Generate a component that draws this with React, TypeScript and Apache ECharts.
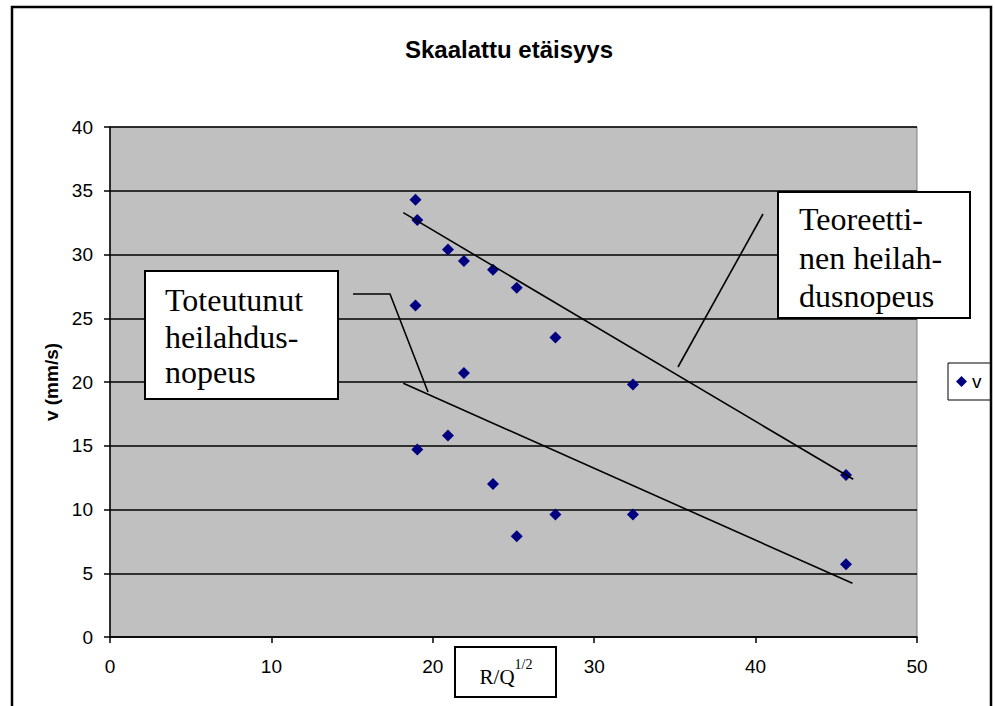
import React, { useEffect, useRef } from "react";
import * as echarts from "echarts";

// ---- Data ----
const titleText = "Skaalattu etäisyys";
const seriesName = "v";
const yAxisName = "v (mm/s)";
const xAxisMain = "R/Q";
const xAxisSup = "1/2";

const xMin = 0;
const xMax = 50;
const xInterval = 10;
const yMin = 0;
const yMax = 40;
const yInterval = 5;

// scatter points: R/Q^(1/2) and v (mm/s)
const xValues = [18.93, 19.04, 20.94, 21.93, 23.73, 25.2, 27.6, 32.4, 45.6, 18.93, 21.93, 19.04, 20.94, 23.73, 25.2, 27.6, 32.4, 45.6];
const vValues = [34.3, 32.7, 30.4, 29.5, 28.8, 27.4, 23.5, 19.8, 12.7, 26.0, 20.7, 14.7, 15.8, 12.0, 7.9, 9.6, 9.6, 5.7];

// hand-drawn trend lines (endpoints in data units)
const theoryLineX = [18.17, 46.05];
const theoryLineY = [33.28, 12.37];
const actualLineX = [18.17, 46.0];
const actualLineY = [19.9, 4.21];

// callout texts
const actualLabel = ["Toteutunut", "heilahdus-", "nopeus"];
const theoryLabel = ["Teoreetti-", "nen heilah-", "dusnopeus"];

const SANS = "'Liberation Sans', Arial, sans-serif";
const SERIF = "'Liberation Serif', 'Times New Roman', serif";

export default function App() {
  const ref = useRef<HTMLDivElement | null>(null);

  useEffect(() => {
    document.body.style.margin = "0";
    if (!ref.current) return;
    const chart = echarts.init(ref.current, undefined, { renderer: "svg" });

    const points = xValues.map((x, i) => [x, vValues[i]]);
    const theory = theoryLineX.map((x, i) => [x, theoryLineY[i]]);
    const actual = actualLineX.map((x, i) => [x, actualLineY[i]]);

    const lineTexts = (lines: string[], x: number, ys: number[]) =>
      lines.map((t, i) => ({
        type: "text",
        z: 101,
        x,
        y: ys[i],
        style: {
          text: t,
          fontFamily: SERIF,
          fontSize: 32,
          fill: "#000",
          align: "left",
          verticalAlign: "middle",
        },
      }));

    chart.setOption({
      animation: false,
      backgroundColor: "#ffffff",
      title: {
        text: titleText,
        left: 504,
        top: 32,
        textAlign: "center",
        textStyle: { fontFamily: SANS, fontWeight: "bold", fontSize: 24, color: "#000" },
      },
      legend: {
        data: [seriesName],
        left: 948,
        top: 363,
        orient: "vertical",
        backgroundColor: "#fff",
        borderColor: "#000",
        borderWidth: 1,
        padding: [9, 9, 9, 8],
        itemWidth: 11,
        itemHeight: 11,
        icon: "diamond",
        itemStyle: { color: "#000080", opacity: 1 },
        textStyle: { fontFamily: SANS, fontSize: 19, color: "#000" },
      },
      grid: {
        left: 110,
        top: 127,
        right: 78,
        bottom: 69,
        show: true,
        backgroundColor: "#C0C0C0",
        borderColor: "#808080",
        borderWidth: 1,
      },
      xAxis: {
        type: "value",
        min: xMin,
        max: xMax,
        interval: xInterval,
        axisLine: { show: true, lineStyle: { color: "#000", width: 1.5 } },
        axisTick: { show: true, inside: false, length: 6, lineStyle: { color: "#000", width: 1.5 } },
        axisLabel: { margin: 20, fontFamily: SANS, fontSize: 19, color: "#000" },
        splitLine: { show: false },
      },
      yAxis: {
        type: "value",
        min: yMin,
        max: yMax,
        interval: yInterval,
        name: yAxisName,
        nameLocation: "middle",
        nameGap: 49,
        nameTextStyle: { fontFamily: SANS, fontWeight: "bold", fontSize: 19, color: "#000" },
        axisLine: { show: true, lineStyle: { color: "#000", width: 1.5 } },
        axisTick: { show: true, inside: false, length: 6, lineStyle: { color: "#000", width: 1.5 } },
        axisLabel: { margin: 17, fontFamily: SANS, fontSize: 19, color: "#000" },
        splitLine: { show: true, lineStyle: { color: "#000", width: 1.5 } },
      },
      series: [
        {
          name: seriesName,
          type: "scatter",
          data: points,
          symbol: "diamond",
          symbolSize: 12,
          itemStyle: { color: "#000080", opacity: 1 },
          z: 3,
        },
        {
          name: "theory-line",
          type: "line",
          data: theory,
          symbol: "none",
          silent: true,
          lineStyle: { color: "#000", width: 1.6 },
          z: 4,
        },
        {
          name: "actual-line",
          type: "line",
          data: actual,
          symbol: "none",
          silent: true,
          lineStyle: { color: "#000", width: 1.6 },
          z: 4,
        },
      ],
      graphic: [
        {
          type: "rect",
          z: 100,
          shape: { x: 12, y: 7, width: 979, height: 730 },
          style: { fill: "none", stroke: "#000", lineWidth: 2.5 },
          silent: true,
        },
        // left callout
        {
          type: "rect",
          z: 100,
          shape: { x: 145, y: 271, width: 193, height: 128 },
          style: { fill: "#fff", stroke: "#000", lineWidth: 2 },
        },
        ...lineTexts(actualLabel, 165, [300, 337, 372]),
        {
          type: "polyline",
          z: 100,
          shape: { points: [[353, 294], [390, 294], [428, 392]] },
          style: { fill: "none", stroke: "#000", lineWidth: 1.6 },
        },
        // right callout
        {
          type: "rect",
          z: 100,
          shape: { x: 778, y: 192, width: 192, height: 126 },
          style: { fill: "#fff", stroke: "#000", lineWidth: 2 },
        },
        ...lineTexts(theoryLabel, 799, [219, 258, 296]),
        {
          type: "line",
          z: 100,
          shape: { x1: 678, y1: 367, x2: 763, y2: 214 },
          style: { stroke: "#000", lineWidth: 1.6 },
        },
        // x axis name box
        {
          type: "rect",
          z: 100,
          shape: { x: 455, y: 647, width: 101, height: 50 },
          style: { fill: "#fff", stroke: "#000", lineWidth: 2 },
        },
        {
          type: "text",
          z: 101,
          x: 506,
          y: 672,
          style: {
            text: `{a|${xAxisMain}}{b|${xAxisSup}}`,
            align: "center",
            verticalAlign: "middle",
            fill: "#000",
            rich: {
              a: { fontFamily: SERIF, fontSize: 21, fill: "#000", lineHeight: 30, verticalAlign: "bottom" },
              b: { fontFamily: SERIF, fontSize: 14, fill: "#000", verticalAlign: "top", lineHeight: 14 },
            },
          },
        },
      ],
    });

    return () => chart.dispose();
  }, []);

  return <div ref={ref} style={{ width: 995, height: 706 }} />;
}
